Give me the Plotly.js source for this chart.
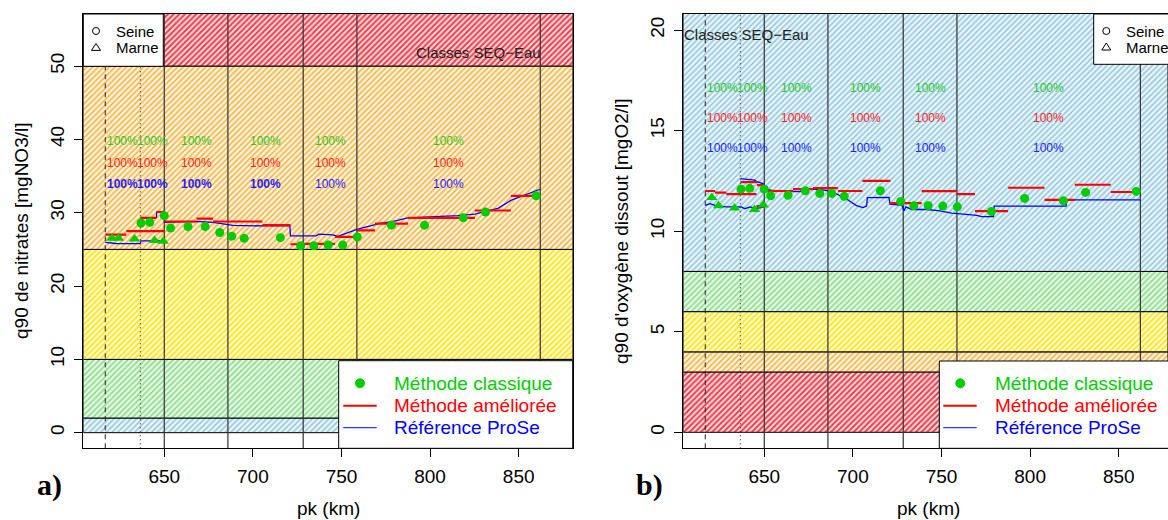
<!DOCTYPE html>
<html><head><meta charset="utf-8">
<script src="https://cdn.plot.ly/plotly-3.0.1.min.js"></script>
<style>html,body{margin:0;padding:0;background:#fff}#chart{width:1168px;height:520px}</style>
</head><body><div id="chart"></div>
<script>
// ================= DATA =================
// station positions (pk, km)
const seineKm = [636.9, 641.8, 650.0, 653.6, 663.4, 673.1, 681.3, 688.1, 695.1, 715.5, 727.0, 734.4, 742.5, 750.7, 758.9, 778.2, 796.9, 818.8, 831.3, 859.9];
const marneKm = [620.4, 624.2, 633.2, 644.5, 649.4];

// ---- a) nitrates ----
const no3SeineClassic = [28.6, 28.7, 29.6, 27.9, 28.1, 28.1, 27.3, 26.8, 26.5, 26.6, 25.5, 25.5, 25.6, 25.6, 26.7, 28.3, 28.3, 29.3, 30.1, 32.3];
const no3MarneClassic = [26.5, 26.5, 26.4, 26.2, 26.1];
const no3AmStart = [616.7, 628.6, 636.5, 645.6, 650.1, 668.2, 677.5, 705.4, 721.2, 728.3, 746.3, 758.6, 768.9, 787.6, 825.3, 845.6];
const no3AmEnd   = [628.6, 650.1, 645.6, 650.1, 668.2, 677.5, 705.4, 721.2, 728.3, 746.3, 758.6, 768.9, 787.6, 825.3, 845.6, 861.4];
const no3AmVal   = [27.0, 27.5, 29.3, 30.1, 28.8, 29.2, 28.8, 28.3, 25.7, 25.75, 26.7, 27.6, 28.5, 29.3, 30.3, 32.3];
const no3RefMarneKm  = [616.7, 622.7, 636.3, 636.9, 650.0];
const no3RefMarneVal = [25.95, 25.8, 25.78, 26.15, 26.15];
const no3RefKm  = [636.5, 645.6, 645.7, 650.0, 650.1, 661.7, 668.2, 677.5, 684.8, 688.8, 705.7, 720.9, 721.2, 735.6, 737.3, 745.2, 748.0, 758.7, 771.7, 778.5, 787.5, 805.6, 815.7, 825.3, 838.3, 845.6, 853.5, 862.0];
const no3RefVal = [29.25, 29.36, 30.04, 30.15, 28.68, 28.74, 28.81, 28.68, 28.43, 28.27, 28.2, 28.24, 26.84, 26.84, 27.07, 26.97, 26.77, 27.72, 28.54, 28.79, 29.29, 29.47, 29.6, 29.8, 30.59, 31.68, 32.43, 33.2];
const no3ClassBounds = [0, 2, 10, 25, 50, 100];

// ---- b) dissolved oxygen ----
const o2SeineClassic = [12.09, 12.13, 12.09, 11.76, 11.79, 12.01, 11.88, 11.88, 11.74, 12.01, 11.48, 11.26, 11.27, 11.25, 11.21, 10.98, 11.63, 11.51, 11.93, 11.98];
const o2MarneClassic = [11.68, 11.26, 11.15, 11.08, 11.30];
const o2AmStart = [616.7, 622.2, 628.6, 645.6, 636.5, 645.9, 650.1, 666.2, 677.5, 691.5, 705.4, 721.2, 738.8, 758.6, 768.9, 787.6, 808.1, 825.2, 845.5];
const o2AmEnd   = [622.2, 628.6, 645.6, 650.0, 645.9, 650.1, 666.2, 677.5, 691.5, 705.4, 721.2, 738.8, 758.6, 768.9, 787.6, 808.1, 825.2, 845.5, 861.3];
const o2AmVal   = [12.0, 11.92, 11.84, 11.25, 12.44, 12.29, 12.0, 12.09, 12.14, 12.0, 12.5, 11.4, 11.99, 11.84, 11.0, 12.16, 11.56, 12.31, 11.95];
const o2RefMarneKm  = [616.7, 619.4, 623.0, 628.6, 636.9, 639.1, 641.9, 644.8, 650.0];
const o2RefMarneVal = [11.28, 11.37, 11.26, 11.21, 11.21, 11.12, 11.21, 11.13, 11.2];
const o2RefKm  = [636.5, 644.6, 645.9, 650.0, 650.1, 656.0, 670.1, 673.0, 681.4, 688.2, 696.4, 702.0, 705.7, 707.7, 708.2, 720.4, 720.9, 727.7, 728.8, 729.9, 733.3, 741.6, 748.2, 755.8, 762.3, 769.9, 772.7, 779.3, 779.7, 820.3, 820.7, 862.0];
const o2RefVal = [12.61, 12.54, 12.46, 12.34, 12.12, 11.99, 11.97, 12.08, 12.08, 11.97, 11.6, 11.27, 11.17, 11.25, 11.67, 11.68, 11.35, 11.28, 11.02, 11.21, 11.08, 11.08, 11.02, 10.9, 10.85, 10.79, 10.72, 10.72, 11.25, 11.25, 11.56, 11.56];
const o2ClassBounds = [0, 3, 4, 6, 8, 100];

// reach boundaries, confluence starts, scores
const reachBounds = [616.7, 636.5, 650.0, 685.9, 728.4, 758.7, 862.2];
const solidBounds = [650.0, 685.9, 728.4, 758.7, 862.2];
const marneStart = 616.7;
const seineStart = 636.5;
const scoreClassic = ['100%', '100%', '100%', '100%', '100%', '100%'];
const scoreAmel    = ['100%', '100%', '100%', '100%', '100%', '100%'];
const scoreRefA    = ['100%', '100%', '100%', '100%', '100%', '100%'];
const scoreRefB    = ['100%', '100%', '100%', '100%', '100%', '100%'];
const boldRefA     = [true, true, true, true, false, false];
const xTicks = [650, 700, 750, 800, 850];
const yTicksA = [0, 10, 20, 30, 40, 50];
const yTicksB = [0, 5, 10, 15, 20];

// ================= STYLE / LAYOUT =================
const W = 1168, H = 520;
const FONT = 'Liberation Sans, Arial, Helvetica, sans-serif';
const GREEN = '#00cd00', RED = '#ff0000', BLUE = '#0000ff';
const px = x => x / W, py = y => 1 - y / H;
const xRangeA = [604.3, 880.5], xRangeB = [604.3, 877.8];
const yRangeA = [-2.13, 57.1], yRangeB = [-0.795, 20.8];

const pal = {
  red:    {fg: 'rgb(236,50,62)',  bg: 'rgb(250,212,215)', s: 0.45},
  orange: {fg: 'rgb(250,178,62)', bg: 'rgb(255,246,228)', s: 0.4},
  yellow: {fg: 'rgb(255,228,20)', bg: 'rgb(255,251,212)', s: 0.45},
  green:  {fg: 'rgb(140,222,140)',bg: 'rgb(234,249,234)', s: 0.45},
  blue:   {fg: 'rgb(150,202,224)',bg: 'rgb(238,247,251)', s: 0.45}
};
const no3Colors = ['blue', 'green', 'yellow', 'orange', 'red'];
const o2Colors  = ['red', 'orange', 'yellow', 'green', 'blue'];

const traces = [];
function bands(bounds, colors, xr, xa, ya) {
  for (let i = 0; i < colors.length; i++) {
    const c = pal[colors[i]];
    const y0 = bounds[i], y1 = bounds[i + 1];
    traces.push({
      type: 'scatter', mode: 'lines', xaxis: xa, yaxis: ya,
      x: [xr[0], xr[1], xr[1], xr[0], xr[0]], y: [y0, y0, y1, y1, y0],
      fill: 'toself', fillcolor: c.bg,
      fillpattern: {shape: '/', fgcolor: c.fg, bgcolor: c.bg, size: 4, solidity: c.s},
      line: {color: '#000', width: 1}, hoverinfo: 'skip', showlegend: false
    });
  }
}
function vlines(xa, ya, yr) {
  const xs = [], ys = [];
  solidBounds.forEach(b => { xs.push(b, b, null); ys.push(yr[0], yr[1], null); });
  traces.push({type: 'scatter', mode: 'lines', xaxis: xa, yaxis: ya, x: xs, y: ys,
    line: {color: 'rgb(50,50,50)', width: 1.2}, hoverinfo: 'skip', showlegend: false});
  traces.push({type: 'scatter', mode: 'lines', xaxis: xa, yaxis: ya, x: [marneStart, marneStart], y: yr,
    line: {color: 'rgb(30,30,30)', width: 1, dash: '5px,4px'}, hoverinfo: 'skip', showlegend: false});
  traces.push({type: 'scatter', mode: 'lines', xaxis: xa, yaxis: ya, x: [seineStart, seineStart], y: yr,
    line: {color: 'rgb(30,30,30)', width: 1, dash: '1px,3px'}, hoverinfo: 'skip', showlegend: false});
}
function segs(s, e, v) {
  const xs = [], ys = [];
  for (let i = 0; i < s.length; i++) { xs.push(s[i], e[i], null); ys.push(v[i], v[i], null); }
  return {xs, ys};
}
function series(xa, ya, refMarneKm, refMarneVal, refKm, refVal, amS, amE, amV, seineC, marneC) {
  traces.push({type: 'scatter', mode: 'lines', xaxis: xa, yaxis: ya, x: refMarneKm, y: refMarneVal,
    line: {color: BLUE, width: 1.3}, hoverinfo: 'skip', showlegend: false});
  traces.push({type: 'scatter', mode: 'lines', xaxis: xa, yaxis: ya, x: refKm, y: refVal,
    line: {color: BLUE, width: 1.3}, hoverinfo: 'skip', showlegend: false});
  const sg = segs(amS, amE, amV);
  traces.push({type: 'scatter', mode: 'lines', xaxis: xa, yaxis: ya, x: sg.xs, y: sg.ys,
    line: {color: RED, width: 2.2}, hoverinfo: 'skip', showlegend: false});
  traces.push({type: 'scatter', mode: 'markers', xaxis: xa, yaxis: ya, x: seineKm, y: seineC,
    marker: {symbol: 'circle', size: 9, color: GREEN}, hoverinfo: 'skip', showlegend: false, cliponaxis: false});
  traces.push({type: 'scatter', mode: 'markers', xaxis: xa, yaxis: ya, x: marneKm, y: marneC,
    marker: {symbol: 'triangle-up', size: 10, color: GREEN}, hoverinfo: 'skip', showlegend: false, cliponaxis: false});
}

bands(no3ClassBounds, no3Colors, xRangeA, 'x', 'y');
bands(o2ClassBounds, o2Colors, xRangeB, 'x2', 'y2');
vlines('x', 'y', yRangeA);
vlines('x2', 'y2', yRangeB);
series('x', 'y', no3RefMarneKm, no3RefMarneVal, no3RefKm, no3RefVal, no3AmStart, no3AmEnd, no3AmVal, no3SeineClassic, no3MarneClassic);
series('x2', 'y2', o2RefMarneKm, o2RefMarneVal, o2RefKm, o2RefVal, o2AmStart, o2AmEnd, o2AmVal, o2SeineClassic, o2MarneClassic);

// ---- annotations ----
const ann = [];
const mids = [];
for (let i = 0; i < reachBounds.length - 1; i++) mids.push((reachBounds[i] + reachBounds[i + 1]) / 2);
function scores(xa, ya, yRows, boldRef, refLabels) {
  mids.forEach((m, i) => {
    ann.push({xref: xa, yref: ya, x: m, y: yRows[0], text: scoreClassic[i], showarrow: false, font: {family: FONT, size: 12, color: 'rgb(40,200,40)'}});
    ann.push({xref: xa, yref: ya, x: m, y: yRows[1], text: scoreAmel[i], showarrow: false, font: {family: FONT, size: 12, color: 'rgb(255,30,30)'}});
    const t = boldRef && boldRef[i] ? '<b>' + refLabels[i] + '</b>' : refLabels[i];
    ann.push({xref: xa, yref: ya, x: m, y: yRows[2], text: t, showarrow: false, font: {family: FONT, size: 12, color: 'rgb(30,30,255)'}});
  });
}
scores('x', 'y', [39.8, 36.8, 33.9], boldRefA, scoreRefA);
scores('x2', 'y2', [17.1, 15.64, 14.15], null, scoreRefB);

function txt(x, y, text, opts) {
  ann.push(Object.assign({xref: 'paper', yref: 'paper', x: px(x), y: py(y), text: text, showarrow: false,
    xanchor: 'center', yanchor: 'middle', font: {family: FONT, size: 19, color: '#000'}}, opts || {}));
}
// axis titles
txt(21, 231, 'q90 de nitrates [mgNO3/l]', {textangle: -90});
txt(621, 231, "q90 d'oxygène dissout [mgO2/l]", {textangle: -90});
txt(328, 508, 'pk (km)');
txt(928, 508, 'pk (km)');
txt(49, 485, '<b>a)</b>', {font: {family: 'Liberation Serif, Times New Roman, serif', size: 30, color: '#000'}});
txt(650, 485, '<b>b)</b>', {font: {family: 'Liberation Serif, Times New Roman, serif', size: 30, color: '#000'}});
// class label
txt(478, 52.5, 'Classes SEQ\u2212Eau', {font: {family: FONT, size: 15, color: '#222'}});
txt(746.5, 35, 'Classes SEQ\u2212Eau', {font: {family: FONT, size: 15, color: '#222'}});
// Seine / Marne keys
txt(114, 31, 'Seine', {xanchor: 'left', font: {family: FONT, size: 15, color: '#000'}});
txt(114, 47.7, 'Marne', {xanchor: 'left', font: {family: FONT, size: 15, color: '#000'}});
txt(1124, 31, 'Seine', {xanchor: 'left', font: {family: FONT, size: 15, color: '#000'}});
txt(1124, 47.3, 'Marne', {xanchor: 'left', font: {family: FONT, size: 15, color: '#000'}});
// method legends
const legNames = ['Méthode classique', 'Méthode améliorée', 'Référence ProSe'];
const legCols = [GREEN, RED, BLUE];
const legY = [383.3, 405.7, 427.7];
[392, 992.5].forEach(x0 => legNames.forEach((n, i) =>
  txt(x0, legY[i], n, {xanchor: 'left', font: {family: FONT, size: 19, color: legCols[i]}})));

// ---- shapes (legend boxes and keys) ----
const shapes = [];
function rect(x0, y0, x1, y1) {
  shapes.push({type: 'rect', xref: 'paper', yref: 'paper', x0: px(x0), x1: px(x1), y0: py(y1), y1: py(y0),
    fillcolor: '#fff', line: {color: '#000', width: 1}, layer: 'above'});
}
function circ(cx, cy, r, fill, lineCol) {
  shapes.push({type: 'circle', xref: 'paper', yref: 'paper', x0: px(cx - r), x1: px(cx + r), y0: py(cy + r), y1: py(cy - r),
    fillcolor: fill, line: {color: lineCol, width: 1}, layer: 'above'});
}
function tri(cx, cy, s) {
  const p = `M${px(cx - s)},${py(cy + s * 0.6)} L${px(cx + s)},${py(cy + s * 0.6)} L${px(cx)},${py(cy - s * 0.95)} Z`;
  shapes.push({type: 'path', xref: 'paper', yref: 'paper', path: p, line: {color: '#000', width: 1}, fillcolor: 'rgba(0,0,0,0)', layer: 'above'});
}
function hl(x0, x1, y, col, w) {
  shapes.push({type: 'line', xref: 'paper', yref: 'paper', x0: px(x0), x1: px(x1), y0: py(y), y1: py(y), line: {color: col, width: w}, layer: 'above'});
}
rect(83.3, 14, 163.3, 66.3);
rect(1093.7, 14, 1180, 64.3);
circ(96, 31, 3.5, 'rgba(0,0,0,0)', '#000');
tri(96, 47.7, 4.5);
circ(1106.3, 31, 3.5, 'rgba(0,0,0,0)', '#000');
tri(1106.3, 47.3, 4.5);
rect(338.7, 360.7, 572.7, 448.3);
rect(939.3, 361, 1180, 448.3);
[[360, 343.3, 376.7], [960.3, 943.3, 976.7]].forEach(([cx, a, b]) => {
  circ(cx, legY[0], 4.5, GREEN, GREEN);
  hl(a, b, legY[1], RED, 2);
  hl(a, b, legY[2], BLUE, 1);
});

const axBase = {
  showgrid: false, zeroline: false, showline: true, linecolor: '#000', linewidth: 1,
  ticks: 'outside', ticklen: 8, tickcolor: '#000', tickwidth: 1, automargin: false, fixedrange: true,
  tickfont: {family: FONT, size: 19, color: '#000'}
};
const yDom = [py(448.3), py(14)];
const layout = {
  width: W, height: H, margin: {l: 0, r: 0, t: 0, b: 0, pad: 0},
  paper_bgcolor: '#fff', plot_bgcolor: '#fff', showlegend: false,
  xaxis: Object.assign({}, axBase, {domain: [px(83.3), px(572.7)], range: xRangeA, tickvals: xTicks, mirror: true, anchor: 'y', ticklabelstandoff: 3}),
  yaxis: Object.assign({}, axBase, {domain: yDom, range: yRangeA, tickvals: yTicksA, tickangle: -90, mirror: true, anchor: 'x', ticklabelstandoff: 3}),
  xaxis2: Object.assign({}, axBase, {domain: [px(683.3), 1], range: xRangeB, tickvals: xTicks, mirror: true, anchor: 'y2', ticklabelstandoff: 3}),
  yaxis2: Object.assign({}, axBase, {domain: yDom, range: yRangeB, tickvals: yTicksB, tickangle: -90, mirror: false, anchor: 'x2', ticklabelstandoff: 3}),
  annotations: ann, shapes: shapes
};
Plotly.newPlot('chart', traces, layout, {staticPlot: true, displayModeBar: false});
</script></body></html>
